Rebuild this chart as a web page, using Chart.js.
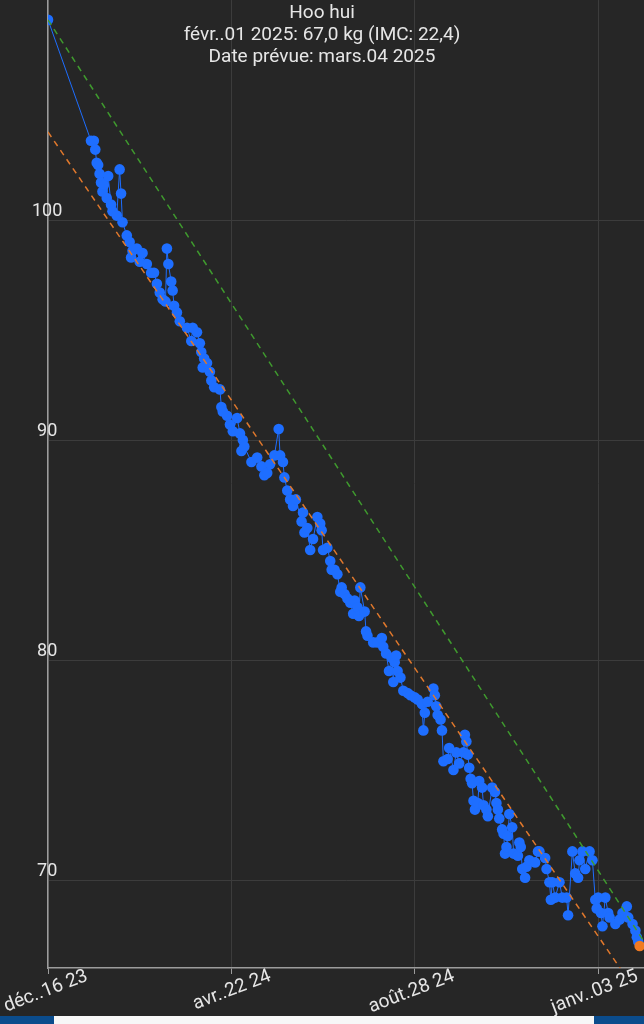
<!DOCTYPE html>
<html lang="fr">
<head>
<meta charset="utf-8">
<title>Hoo hui</title>
<script src="https://cdn.jsdelivr.net/npm/chart.js@4.4.1/dist/chart.umd.min.js"></script>
<style>
  html, body { margin: 0; padding: 0; background: #262626; }
  #wrap { position: relative; width: 644px; height: 1016px; }
  #bar { position: relative; width: 644px; height: 8px; background: #0b4c8c; }
  #bar div { position: absolute; left: 54px; right: 50px; top: 0; bottom: 0; background: #f7f7f7; }
</style>
</head>
<body>
<div id="wrap"><canvas id="poids"></canvas></div>
<div id="bar"><div></div></div>
<script>
// jours depuis le 16 déc. 2023
const jours = [
  0, 30, 32, 33, 34, 35, 36, 37, 38, 39, 41, 42, 44, 45, 48, 50, 51, 52, 55, 57,
  58, 59, 62, 64, 66, 69, 72, 74, 76, 78, 80, 82, 83, 84, 86, 87, 88, 90, 92, 97,
  100, 101, 104, 106, 107, 108, 109, 111, 113, 114, 116, 120, 121, 122, 125, 127, 129, 132, 134, 135,
  136, 137, 142, 146, 149, 151, 153, 155, 158, 161, 162, 164, 165, 167, 169, 171, 173, 177, 178, 179,
  181, 183, 185, 188, 190, 191, 192, 195, 197, 198, 200, 202, 204, 205, 207, 209, 211, 213, 214, 216,
  217, 218, 221, 222, 223, 227, 230, 233, 234, 236, 238, 240, 241, 242, 243, 244, 246, 248, 251, 253,
  256, 258, 261, 262, 263, 265, 269, 270, 271, 272, 274, 275, 276, 279, 280, 283, 285, 287, 290, 291,
  292, 293, 294, 295, 296, 297, 298, 300, 301, 303, 304, 306, 307, 310, 312, 313, 314, 315, 317, 318,
  319, 320, 321, 322, 324, 325, 328, 329, 330, 331, 333, 334, 336, 340, 342, 343, 347, 348, 350, 351,
  352, 354, 357, 359, 362, 363, 366, 368, 370, 371, 373, 375, 378, 380, 382, 383, 384, 386, 387, 389,
  391, 392, 396, 399, 401, 404, 405, 408, 410, 411, 412, 413
];
const poids = [
  109.1, 103.6, 103.6, 103.2, 102.6, 102.5, 102.1, 101.7, 101.3, 101.6, 101.0, 102.0, 100.7, 100.4, 100.2, 102.3, 101.2, 99.9, 99.3, 99.0,
  98.3, 98.6, 98.7, 98.1, 98.5, 98.0, 97.6, 97.6, 97.1, 96.7, 96.4, 96.3, 98.7, 98.0, 97.2, 96.8, 96.1, 95.8, 95.4, 95.1,
  94.5, 95.1, 94.9, 94.4, 94.0, 93.3, 93.7, 93.5, 93.1, 92.7, 92.4, 92.3, 91.5, 91.3, 91.1, 90.7, 90.4, 91.0, 90.3, 89.5,
  90.0, 89.7, 89.0, 89.2, 88.8, 88.4, 88.5, 88.9, 89.3, 90.5, 89.3, 89.0, 88.3, 87.7, 87.3, 87.0, 87.3, 86.3, 86.7, 85.8,
  86.0, 85.0, 85.5, 86.5, 86.2, 85.9, 85.0, 85.1, 84.5, 84.1, 84.1, 83.9, 83.1, 83.3, 83.0, 82.8, 82.6, 82.1, 82.7, 82.4,
  82.0, 83.3, 82.2, 81.3, 81.1, 80.8, 80.8, 81.0, 80.6, 80.3, 79.5, 80.1, 79.0, 79.9, 80.2, 79.5, 79.2, 78.6, 78.5, 78.4,
  78.3, 78.2, 78.0, 76.8, 77.6, 78.1, 78.7, 78.4, 77.9, 77.5, 77.3, 76.8, 75.4, 75.5, 76.0, 75.0, 75.8, 75.3, 75.8, 76.6,
  76.3, 75.7, 75.1, 74.6, 74.4, 73.6, 73.2, 73.5, 74.5, 74.2, 73.4, 73.2, 72.9, 74.2, 74.0, 73.5, 73.2, 72.8, 72.3, 72.1,
  71.2, 71.5, 72.0, 73.0, 72.4, 71.2, 71.1, 71.7, 71.5, 70.5, 70.1, 70.6, 70.9, 70.8, 71.3, 71.3, 71.0, 70.5, 69.9, 69.1,
  69.9, 69.2, 69.9, 69.2, 69.2, 68.4, 71.3, 70.3, 70.1, 70.9, 71.3, 70.5, 71.3, 70.9, 69.1, 68.7, 69.2, 68.5, 67.9, 69.2,
  68.5, 68.3, 68.0, 68.2, 68.5, 68.8, 68.3, 68.0, 67.7, 67.4, 67.2, 67.0
];
const droiteJours = [0, 416];
const tendance = [104.0, 64.4];
const objectif = [109.1, 67.2];
const xTicksJours = [0, 128, 256, 384];
const xTicksLabels = ["déc..16 23", "avr..22 24", "août.28 24", "janv..03 25"];
const yTicks = [70, 80, 90, 100];
const titre = ["Hoo hui", "févr..01 2025: 67,0 kg (IMC: 22,4)", "Date prévue: mars.04 2025"];

const bleu = '#1e6eff';
const orange = '#f07a22';
const texte = '#e6e6e6';
const grille = '#3c3c3c';
const axe = '#9c9c9c';

Chart.defaults.font.family = 'Roboto';
Chart.defaults.font.size = 18;
Chart.defaults.color = texte;

const mesures = jours.map((j, i) => ({ x: j, y: poids[i] }));
const dernier = mesures.length - 1;

new Chart(document.querySelector('#poids'), {
  type: 'line',
  data: {
    datasets: [
      {
        data: droiteJours.map((j, i) => ({ x: j, y: tendance[i] })),
        borderColor: '#e0782c',
        borderWidth: 1.5,
        borderDash: [6, 5],
        pointRadius: 0
      },
      {
        data: droiteJours.map((j, i) => ({ x: j, y: objectif[i] })),
        borderColor: '#3f9a2e',
        borderWidth: 1.5,
        borderDash: [6, 5],
        pointRadius: 0
      },
      {
        data: mesures,
        borderColor: bleu,
        borderWidth: 1,
        pointRadius: 5.3,
        pointBorderWidth: 0,
        pointBackgroundColor: ctx => ctx.dataIndex === dernier ? orange : bleu
      }
    ]
  },
  options: {
    responsive: true,
    maintainAspectRatio: false,
    animation: false,
    layout: { padding: 0, autoPadding: false },
    plugins: {
      legend: { display: false },
      tooltip: { enabled: false },
      title: {
        display: true,
        text: titre,
        color: texte,
        font: { size: 19, weight: 'normal', lineHeight: 1.16 },
        padding: { top: 2, bottom: -68.1 }
      }
    },
    scales: {
      x: {
        type: 'linear',
        min: 0,
        max: 416,
        afterBuildTicks: s => { s.ticks = xTicksJours.map(v => ({ value: v })); },
        afterFit: s => { s.height = 48; s.paddingLeft = 0; s.paddingRight = 0; },
        grid: { color: grille, tickColor: axe, tickLength: 6 },
        border: { color: axe, width: 1.5 },
        ticks: {
          color: texte,
          font: { size: 19 },
          minRotation: 21,
          maxRotation: 21,
          padding: -9,
          labelOffset: 39,
          autoSkip: false,
          callback: (v, i) => xTicksLabels[i]
        }
      },
      y: {
        min: 66,
        max: 110,
        afterBuildTicks: s => { s.ticks = yTicks.map(v => ({ value: v })); },
        afterFit: s => { s.width = 48; s.paddingTop = 0; s.paddingBottom = 0; },
        grid: { color: grille, drawTicks: false },
        border: { color: axe, width: 1.5 },
        ticks: {
          color: texte,
          mirror: true,
          crossAlign: 'center',
          padding: -16,
          labelOffset: -9
        }
      }
    }
  }
});
</script>
</body>
</html>
